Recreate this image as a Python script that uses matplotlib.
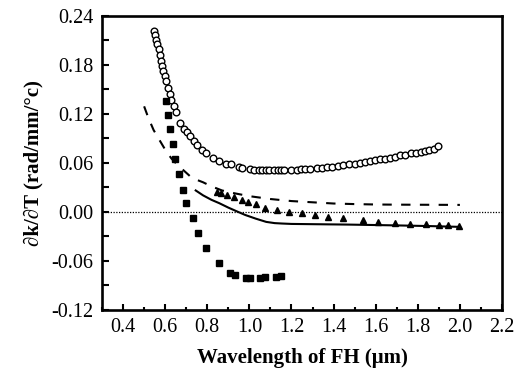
import numpy as np
import matplotlib.pyplot as plt
from matplotlib.ticker import MultipleLocator

# ---- data ----
circ_x = [0.545, 0.552, 0.558, 0.563, 0.570, 0.574, 0.580, 0.586, 0.592, 0.598,
          0.604, 0.613, 0.621, 0.630, 0.640, 0.652, 0.672, 0.690, 0.705, 0.716,
          0.735, 0.750, 0.775, 0.795, 0.825, 0.857, 0.890, 0.912, 0.950, 0.967,
          1.005, 1.022, 1.045, 1.062, 1.077, 1.095, 1.116, 1.135, 1.148, 1.163,
          1.200, 1.226, 1.245, 1.262, 1.289, 1.320, 1.344, 1.370, 1.391, 1.420,
          1.446, 1.475, 1.501, 1.525, 1.549, 1.572, 1.595, 1.619, 1.643, 1.667,
          1.690, 1.714, 1.740, 1.768, 1.792, 1.816, 1.835, 1.855, 1.875, 1.894]
circ_y = [0.221, 0.216, 0.210, 0.205, 0.199, 0.192, 0.185, 0.178, 0.172, 0.166,
          0.160, 0.151, 0.144, 0.137, 0.130, 0.122, 0.109, 0.101, 0.097, 0.093,
          0.086, 0.082, 0.076, 0.072, 0.066, 0.062, 0.059, 0.058, 0.055, 0.054,
          0.052, 0.0515, 0.051, 0.051, 0.0505, 0.0505, 0.0505, 0.0505, 0.051, 0.0505,
          0.051, 0.0515, 0.052, 0.052, 0.0525, 0.053, 0.054, 0.0545, 0.055, 0.056,
          0.057, 0.058, 0.059, 0.060, 0.0605, 0.062, 0.063, 0.064, 0.065, 0.066,
          0.0675, 0.069, 0.070, 0.0715, 0.072, 0.073, 0.074, 0.0755, 0.077, 0.080]

sq_x = [0.602, 0.613, 0.624, 0.636, 0.649, 0.665, 0.687, 0.700, 0.731, 0.754,
        0.794, 0.857, 0.906, 0.932, 0.982, 1.005, 1.050, 1.075, 1.125, 1.150]
sq_y = [0.136, 0.118, 0.101, 0.0825, 0.064, 0.0466, 0.0268, 0.0104, -0.0082, -0.026,
        -0.0445, -0.063, -0.0755, -0.077, -0.081, -0.0812, -0.081, -0.0805, -0.0795, -0.0785]

dash_x = [0.50, 0.52, 0.545, 0.57, 0.60, 0.63, 0.66, 0.69, 0.72, 0.75, 0.78, 0.82,
          0.87, 0.93, 1.00, 1.10, 1.20, 1.30, 1.40, 1.50, 1.60, 1.70, 1.80, 1.90, 2.00]
dash_y = [0.129, 0.115, 0.100, 0.089, 0.076, 0.065, 0.057, 0.050, 0.043, 0.039, 0.036, 0.031,
          0.026, 0.0225, 0.019, 0.0155, 0.013, 0.0115, 0.010, 0.0093, 0.0088, 0.0086,
          0.0085, 0.0084, 0.0083]

solid_x = [0.745, 0.78, 0.82, 0.857, 0.90, 0.935, 0.98, 1.03, 1.08, 1.12, 1.155,
           1.20, 1.30, 1.47, 1.70, 1.85, 2.00]
solid_y = [0.026, 0.020, 0.0145, 0.0104, 0.005, 0.001, -0.004, -0.0085, -0.0125, -0.014,
           -0.0145, -0.015, -0.0153, -0.0158, -0.0168, -0.0176, -0.0186]

tri_x = [0.844, 0.865, 0.896, 0.927, 0.963, 0.995, 1.031, 1.074, 1.132, 1.187, 1.250,
         1.313, 1.372, 1.446, 1.541, 1.611, 1.690, 1.761, 1.839, 1.902, 1.942, 1.997]
tri_y = [0.0247, 0.0231, 0.020, 0.0182, 0.0139, 0.0116, 0.0095, 0.0046, 0.0015, -0.0004,
         -0.0022, -0.0045, -0.0069, -0.0082, -0.0103, -0.0131, -0.014, -0.0148, -0.0156,
         -0.0161, -0.0165, -0.0177]

plt.rcParams["font.family"] = ["Liberation Serif", "DejaVu Serif"]

fig = plt.figure(figsize=(5.16, 3.79), dpi=100)
ax = fig.add_axes([0.1977, 0.1829, 0.7752, 0.7757])

ax.axhline(0, color="black", linestyle=(0, (1, 1.2)), linewidth=0.9, zorder=1)

ax.plot(dash_x, dash_y, color="black", linewidth=1.5, dashes=(4.5, 4.5), zorder=2)
ax.plot(solid_x, solid_y, color="black", linewidth=1.5, zorder=2)
ax.plot(circ_x, circ_y, linestyle="none", marker="o", markersize=4.8,
        markerfacecolor="white", markeredgecolor="black", markeredgewidth=1.0, zorder=3)
ax.plot(sq_x, sq_y, linestyle="none", marker="s", markersize=4.0,
        color="black", zorder=3)
ax.plot(tri_x, tri_y, linestyle="none", marker="^", markersize=4.8,
        color="black", zorder=3)

ax.set_xlim(0.3, 2.2)
ax.set_ylim(-0.12, 0.24)
ax.xaxis.set_minor_locator(MultipleLocator(0.1))
ax.yaxis.set_major_locator(MultipleLocator(0.06))
ax.yaxis.set_minor_locator(MultipleLocator(0.03))
ax.set_xticks(np.arange(0.4, 2.21, 0.2))
ax.set_xticklabels([f"{v:.1f}" for v in np.arange(0.4, 2.21, 0.2)])
ax.set_yticklabels([f"{v:.2f}" for v in ax.get_yticks()])

ax.tick_params(axis="both", which="both", direction="in", top=False, right=False,
               width=1.5, labelsize=14.5)
ax.tick_params(axis="x", which="major", length=4.5, pad=6)
ax.tick_params(axis="x", which="minor", length=2.2)
ax.tick_params(axis="y", which="both", length=5, pad=6)

for s in ax.spines.values():
    s.set_linewidth(1.9)

ax.set_xlabel("Wavelength of FH (\u03bcm)", fontsize=15, fontweight="bold", labelpad=8)
ax.set_ylabel("\u2202k/\u2202T (rad/mm/\u00b0c)", fontsize=15, fontweight="bold", labelpad=6)

plt.savefig("out.png", dpi=100)
